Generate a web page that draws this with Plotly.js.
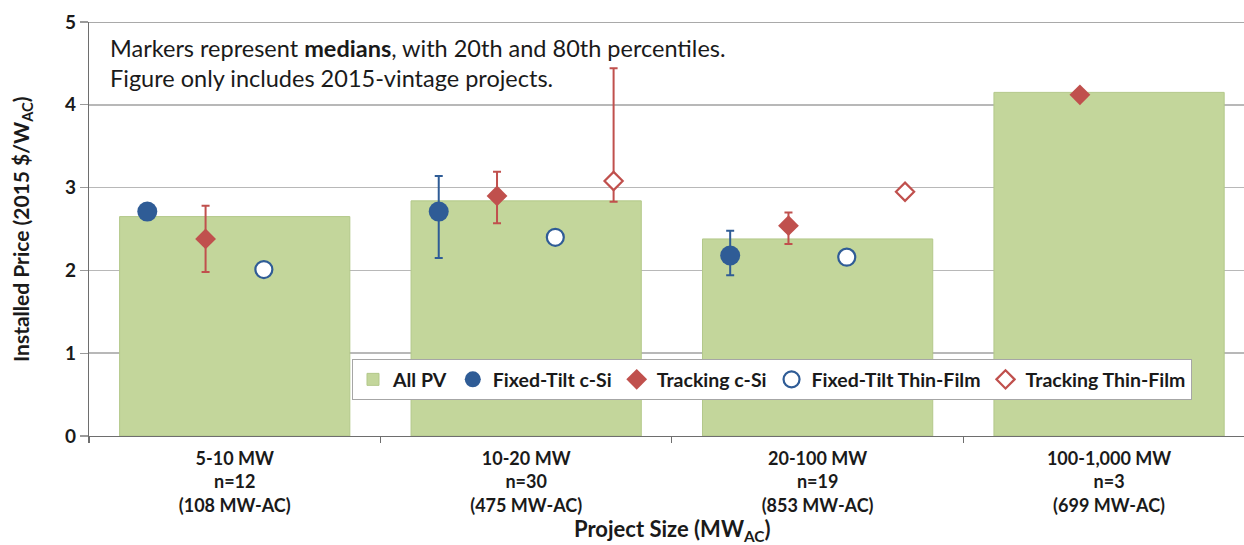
<!DOCTYPE html>
<html>
<head>
<meta charset="utf-8">
<script src="https://cdn.plot.ly/plotly-3.0.1.min.js"></script>
<style>html,body{margin:0;padding:0;background:#fff;}#chart{width:1244px;height:545px;}</style>
</head>
<body>
<div id="chart"></div>
<script>
// ---- data ----
const tickLabels = [
  "5-10 MW<br>n=12<br>(108 MW-AC)",
  "10-20 MW<br>n=30<br>(475 MW-AC)",
  "20-100 MW<br>n=19<br>(853 MW-AC)",
  "100-1,000 MW<br>n=3<br>(699 MW-AC)"
];
const allPV = [2.65, 2.84, 2.38, 4.15];

const fixedTiltCSi    = [2.71, 2.71, 2.18, null];
const fixedTiltCSiP20 = [null, 2.15, 1.94, null];
const fixedTiltCSiP80 = [null, 3.14, 2.48, null];

const trackingCSi    = [2.38, 2.90, 2.54, 4.12];
const trackingCSiP20 = [1.98, 2.57, 2.32, null];
const trackingCSiP80 = [2.78, 3.19, 2.70, null];

const fixedTiltTF = [2.01, 2.40, 2.16, null];

const trackingTF    = [null, 3.08, 2.95, null];
const trackingTFP20 = [null, 2.83, null, null];
const trackingTFP80 = [null, 4.44, null, null];

// ---- styling / layout helpers ----
const idx = tickLabels.map((_, i) => i);
const offs = {ft: -0.3, tr: -0.1, fttf: 0.1, trtf: 0.3};
const BLUE = '#2f5c96', RED = '#c0504d', GREEN = '#c3d69b';
const FONT = 'Lato, "Liberation Sans", sans-serif';

function errUp(m, hi) { return m.map((v, i) => (v != null && hi[i] != null) ? hi[i] - v : NaN); }
function errDn(m, lo) { return m.map((v, i) => (v != null && lo[i] != null) ? v - lo[i] : NaN); }
function xs(o) { return idx.map(i => i + o); }

const traces = [
  {type: 'bar', name: 'All PV', x: idx, y: allPV, width: 0.79,
   marker: {color: GREEN, line: {color: '#b3c88a', width: 1}}, hoverinfo: 'y'},
  {type: 'scatter', mode: 'markers', name: 'Fixed-Tilt c-Si', x: xs(offs.ft), y: fixedTiltCSi,
   marker: {symbol: 'circle', size: 20, color: BLUE},
   error_y: {type: 'data', symmetric: false, array: errUp(fixedTiltCSi, fixedTiltCSiP80),
             arrayminus: errDn(fixedTiltCSi, fixedTiltCSiP20), color: BLUE, thickness: 2, width: 4}},
  {type: 'scatter', mode: 'markers', name: 'Tracking c-Si', x: xs(offs.tr), y: trackingCSi,
   marker: {symbol: 'diamond', size: 16, color: RED},
   error_y: {type: 'data', symmetric: false, array: errUp(trackingCSi, trackingCSiP80),
             arrayminus: errDn(trackingCSi, trackingCSiP20), color: RED, thickness: 2, width: 4}},
  {type: 'scatter', mode: 'markers', name: 'Fixed-Tilt Thin-Film', x: xs(offs.fttf), y: fixedTiltTF,
   marker: {symbol: 'circle', size: 17, color: '#ffffff', line: {color: BLUE, width: 2.2}}},
  {type: 'scatter', mode: 'markers', name: 'Tracking Thin-Film', x: xs(offs.trtf), y: trackingTF,
   marker: {symbol: 'diamond', size: 14, color: '#ffffff', line: {color: RED, width: 2.2}},
   error_y: {type: 'data', symmetric: false, array: errUp(trackingTF, trackingTFP80),
             arrayminus: errDn(trackingTF, trackingTFP20), color: RED, thickness: 2, width: 4}}
];

const layout = {
  width: 1244, height: 545,
  margin: {l: 89, r: 0, t: 21.5, b: 108.5, pad: 0},
  paper_bgcolor: '#ffffff', plot_bgcolor: '#ffffff',
  font: {family: FONT, color: '#1a1a1a'},
  showlegend: true,
  xaxis: {
    range: [-0.5, 3.463], tickvals: idx, ticktext: tickLabels, ticks: '', ticklabelstandoff: 6,
    showgrid: false, zeroline: false, showline: true, linecolor: '#6e6e6e', linewidth: 1.2,
    tickfont: {family: FONT, size: 18, weight: 700, color: '#1a1a1a'},
    minor: {tickvals: [-0.5, 0.5, 1.5, 2.5], ticks: 'outside', ticklen: 6, tickcolor: '#6e6e6e', tickwidth: 1.2, showgrid: false},
    fixedrange: true
  },
  yaxis: {
    range: [0, 5], tickvals: [0, 1, 2, 3, 4, 5], ticks: 'outside', ticklen: 8, tickcolor: '#9a9a9a', tickwidth: 1.2,
    showgrid: true, gridcolor: '#b8b8b8', gridwidth: 1.5, zeroline: false,
    showline: true, linecolor: '#6e6e6e', linewidth: 1.2,
    tickfont: {family: FONT, size: 19, weight: 700, color: '#1a1a1a'},
    fixedrange: true
  },
  legend: {
    orientation: 'h', x: 0.2277, xanchor: 'left', y: 0.136, yanchor: 'middle',
    bgcolor: '#ffffff', bordercolor: '#a6a6a6', borderwidth: 1,
    font: {family: FONT, size: 19.5, weight: 700, color: '#1a1a1a'},
    traceorder: 'normal'
  },
  shapes: [
    {type: 'line', xref: 'paper', yref: 'y', x0: 0, x1: 1, y0: 5, y1: 5, line: {color: '#8c8c8c', width: 1.5}}
  ],
  annotations: [
    {xref: 'paper', yref: 'paper', x: 0.01645, y: 0.936, xanchor: 'left', yanchor: 'middle', showarrow: false,
     text: 'Markers represent <b>medians</b>, with 20th and 80th percentiles.', font: {family: FONT, size: 23.5, color: '#1a1a1a'}},
    {xref: 'paper', yref: 'paper', x: 0.01645, y: 0.864, xanchor: 'left', yanchor: 'middle', showarrow: false,
     text: 'Figure only includes 2015-vintage projects.', font: {family: FONT, size: 23.5, color: '#1a1a1a'}},
    {xref: 'paper', yref: 'paper', x: -0.058, y: 0.5, xanchor: 'center', yanchor: 'middle', showarrow: false, textangle: -90,
     text: 'Installed Price (2015 $/W<sub>AC</sub>)', font: {family: FONT, size: 21, weight: 700, color: '#1a1a1a'}},
    {xref: 'paper', yref: 'paper', x: 0.5048, y: -0.226, xanchor: 'center', yanchor: 'middle', showarrow: false,
     text: 'Project Size (MW<sub>AC</sub>)', font: {family: FONT, size: 22, weight: 700, color: '#1a1a1a'}}
  ]
};

Plotly.newPlot('chart', traces, layout, {displayModeBar: false, staticPlot: true});
</script>
</body>
</html>
